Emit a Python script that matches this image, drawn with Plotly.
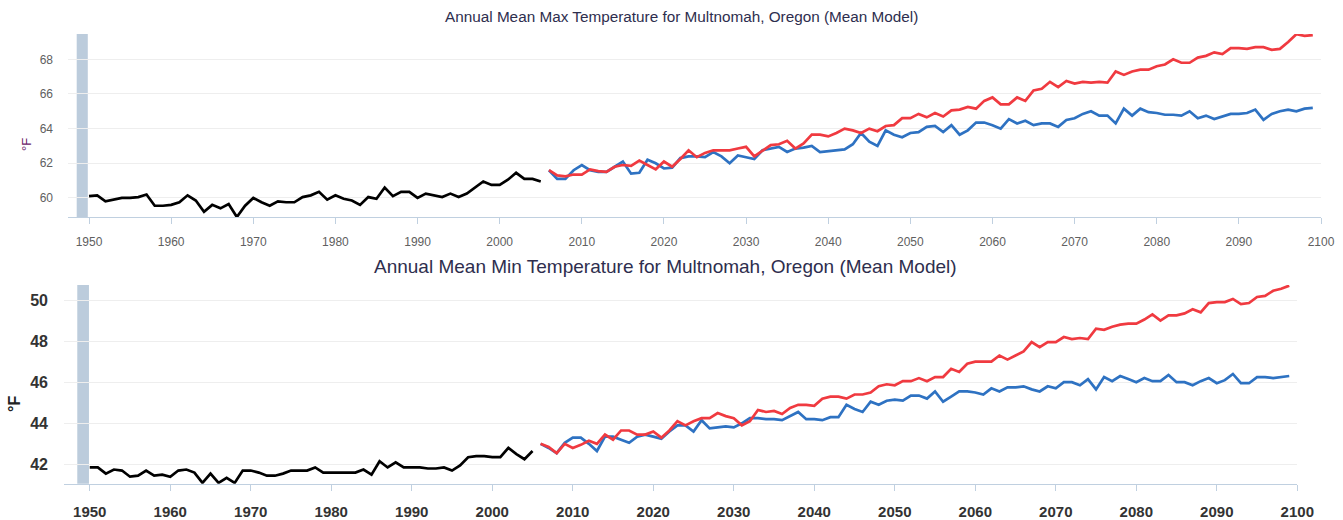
import plotly.graph_objects as go

# ---------------- data ----------------
hist_years = list(range(1950, 2006))
proj_years = list(range(2006, 2100))

max_hist = [60.1, 60.15, 59.8, 59.9, 60.0, 60.0, 60.05, 60.2, 59.55, 59.55,
            59.6, 59.75, 60.15, 59.85, 59.2, 59.6, 59.4, 59.65, 58.9, 59.55,
            60.0, 59.75, 59.55, 59.8, 59.75, 59.75, 60.05, 60.15, 60.35, 59.9,
            60.15, 59.95, 59.85, 59.6, 60.05, 59.95, 60.6, 60.1, 60.35, 60.35,
            60.0, 60.25, 60.15, 60.05, 60.25, 60.05, 60.25, 60.6, 60.95, 60.75,
            60.75, 61.05, 61.45, 61.1, 61.1, 60.95]

max_high = [61.6, 61.3, 61.25, 61.35, 61.35, 61.65, 61.55, 61.5, 61.8, 61.9,
            61.85, 62.15, 61.9, 61.65, 62.1, 61.8, 62.25, 62.75, 62.35, 62.6,
            62.75, 62.75, 62.75, 62.85, 62.95, 62.4, 62.7, 63.05, 63.1, 63.3,
            62.85, 63.15, 63.65, 63.65, 63.55, 63.75, 64.0, 63.9, 63.75, 64.0,
            63.85, 64.15, 64.2, 64.6, 64.6, 64.85, 64.65, 64.9, 64.7, 65.05,
            65.1, 65.25, 65.15, 65.6, 65.8, 65.4, 65.4, 65.8, 65.6, 66.2,
            66.3, 66.7, 66.4, 66.75, 66.6, 66.7, 66.65, 66.7, 66.65, 67.3,
            67.1, 67.3, 67.4, 67.4, 67.6, 67.7, 68.0, 67.8, 67.8, 68.1,
            68.2, 68.4, 68.3, 68.65, 68.65, 68.6, 68.7, 68.7, 68.55, 68.6,
            69.0, 69.45, 69.35, 69.4]

max_low = [61.6, 61.1, 61.1, 61.6, 61.9, 61.6, 61.5, 61.5, 61.8, 62.1,
           61.4, 61.45, 62.2, 62.0, 61.7, 61.75, 62.3, 62.4, 62.4, 62.35,
           62.65, 62.4, 62.0, 62.45, 62.35, 62.25, 62.75, 62.85, 62.95, 62.65,
           62.85, 62.9, 63.0, 62.65, 62.7, 62.75, 62.8, 63.1, 63.75, 63.25,
           63.0, 63.9, 63.65, 63.5, 63.75, 63.8, 64.1, 64.15, 63.8, 64.2,
           63.65, 63.9, 64.35, 64.35, 64.2, 64.0, 64.55, 64.3, 64.45, 64.2,
           64.3, 64.3, 64.1, 64.5, 64.6, 64.85, 65.0, 64.75, 64.75, 64.3,
           65.15, 64.75, 65.15, 64.95, 64.9, 64.8, 64.8, 64.75, 65.0, 64.6,
           64.75, 64.55, 64.7, 64.85, 64.85, 64.9, 65.1, 64.5, 64.85, 65.0,
           65.1, 65.0, 65.15, 65.2]

min_hist = [41.85, 41.85, 41.55, 41.75, 41.7, 41.4, 41.45, 41.7, 41.45, 41.5,
            41.4, 41.7, 41.75, 41.6, 41.1, 41.55, 41.1, 41.35, 41.1, 41.7,
            41.7, 41.6, 41.45, 41.45, 41.55, 41.7, 41.7, 41.7, 41.85, 41.6,
            41.6, 41.6, 41.6, 41.6, 41.75, 41.5, 42.15, 41.85, 42.1, 41.85,
            41.85, 41.85, 41.8, 41.8, 41.85, 41.7, 41.95, 42.35, 42.4, 42.4,
            42.35, 42.35, 42.8, 42.5, 42.25, 42.65]

min_high = [43.0, 42.85, 42.55, 43.0, 42.8, 42.95, 43.15, 43.0, 43.45, 43.2,
            43.65, 43.65, 43.45, 43.45, 43.6, 43.3, 43.65, 44.1, 43.9, 44.1,
            44.25, 44.25, 44.5, 44.35, 44.25, 43.9, 44.1, 44.65, 44.55, 44.6,
            44.45, 44.75, 44.9, 44.9, 44.85, 45.2, 45.3, 45.3, 45.2, 45.4,
            45.4, 45.5, 45.8, 45.9, 45.85, 46.05, 46.05, 46.2, 46.05, 46.25,
            46.25, 46.65, 46.5, 46.9, 47.0, 47.0, 47.0, 47.3, 47.1, 47.3,
            47.5, 47.95, 47.7, 47.95, 47.95, 48.2, 48.1, 48.15, 48.1, 48.6,
            48.55, 48.7, 48.8, 48.85, 48.85, 49.05, 49.3, 49.0, 49.25, 49.25,
            49.35, 49.55, 49.4, 49.85, 49.9, 49.9, 50.05, 49.8, 49.85, 50.15,
            50.2, 50.45, 50.55, 50.7]

min_low = [43.0, 42.8, 42.55, 43.05, 43.3, 43.3, 43.0, 42.65, 43.35, 43.35,
           43.2, 43.05, 43.35, 43.45, 43.35, 43.25, 43.6, 43.9, 43.9, 43.6,
           44.15, 43.75, 43.8, 43.85, 43.8, 44.0, 44.25, 44.25, 44.2, 44.2,
           44.15, 44.35, 44.55, 44.2, 44.2, 44.15, 44.3, 44.3, 44.9, 44.7,
           44.55, 45.05, 44.9, 45.1, 45.15, 45.1, 45.35, 45.35, 45.2, 45.55,
           45.05, 45.3, 45.55, 45.55, 45.5, 45.4, 45.7, 45.55, 45.75, 45.75,
           45.8, 45.65, 45.55, 45.8, 45.7, 46.0, 46.0, 45.85, 46.15, 45.65,
           46.25, 46.05, 46.3, 46.15, 46.0, 46.2, 46.05, 46.05, 46.35, 46.0,
           46.0, 45.85, 46.05, 46.2, 45.95, 46.1, 46.4, 45.95, 45.95, 46.25,
           46.25, 46.2, 46.25, 46.3]

x_ticks = list(range(1950, 2101, 10))
title_max = "Annual Mean Max Temperature for Multnomah, Oregon (Mean Model)"
title_min = "Annual Mean Min Temperature for Multnomah, Oregon (Mean Model)"

# ---------------- style ----------------
W, H = 1343, 520
BLACK = "#000000"
RED = "#F03A40"
BLUE = "#2E72C2"
BAND = "#BCCCDC"
GRID = "#EEEEEE"
AXIS = "#C0D0E0"
FONT = "Liberation Sans, Arial, sans-serif"

fig = go.Figure()

def add_series(x, y, color, xa, ya):
    fig.add_trace(go.Scatter(x=x, y=y, mode="lines", xaxis=xa, yaxis=ya,
                             line=dict(color=color, width=2.7),
                             hoverinfo="skip", showlegend=False))

add_series(hist_years, max_hist, BLACK, "x", "y")
add_series(proj_years, max_low, BLUE, "x", "y")
add_series(proj_years, max_high, RED, "x", "y")
add_series(hist_years, min_hist, BLACK, "x2", "y2")
add_series(proj_years, min_low, BLUE, "x2", "y2")
add_series(proj_years, min_high, RED, "x2", "y2")

def px_x(p):
    return p / W

def px_y(p):
    return 1 - p / H

xcommon = dict(tickmode="array", tickvals=x_ticks, showgrid=False, zeroline=False,
               showline=True, linecolor=AXIS, linewidth=1, automargin=False,
               ticks="outside", ticklen=6, tickcolor=AXIS, tickwidth=1)
ycommon = dict(dtick=2, tick0=0, showgrid=True, gridcolor=GRID, gridwidth=1,
               zeroline=False, showline=False, ticks="", automargin=False)

fig.update_layout(
    width=W, height=H, autosize=False, margin=dict(l=0, r=0, t=0, b=0, pad=0),
    paper_bgcolor="white", plot_bgcolor="white", showlegend=False,
    xaxis=dict(domain=[px_x(68), px_x(1321)], range=[1947.44, 2100], anchor="y",
               tickfont=dict(family=FONT, size=12, color="#606060"),
               ticklabelstandoff=8, **xcommon),
    yaxis=dict(domain=[px_y(217), px_y(34)], range=[58.9, 69.46], anchor="x",
               tickfont=dict(family=FONT, size=12, color="#606060"),
               ticklabelstandoff=14, **ycommon),
    xaxis2=dict(domain=[px_x(64), px_x(1297.3)], range=[1946.8, 2100], anchor="y2",
                tickfont=dict(family=FONT, size=15, color="#333333", weight="bold"),
                ticklabelstandoff=8, **xcommon),
    yaxis2=dict(domain=[px_y(483.7), px_y(285)], range=[41.06, 50.73], anchor="x2",
                tickfont=dict(family=FONT, size=16, color="#333333", weight="bold"),
                ticklabelstandoff=15, **ycommon),
)

# plot bands
fig.add_shape(type="rect", xref="x", yref="y domain", x0=1948.5, x1=1949.85, y0=0, y1=1,
              fillcolor=BAND, line=dict(width=0), layer="below")
fig.add_shape(type="rect", xref="x2", yref="y2 domain", x0=1948.45, x1=1949.9, y0=0, y1=1,
              fillcolor=BAND, line=dict(width=0), layer="below")

# titles
fig.add_annotation(text=title_max, xref="paper", yref="paper", x=px_x(681), y=px_y(16),
                   xanchor="center", yanchor="middle", showarrow=False,
                   font=dict(family=FONT, size=15.3, color="#2E2E4E"))
fig.add_annotation(text=title_min, xref="paper", yref="paper", x=px_x(665), y=px_y(266),
                   xanchor="center", yanchor="middle", showarrow=False,
                   font=dict(family=FONT, size=19, color="#2E2E4E"))

# y-axis titles
fig.add_annotation(text="°F", xref="paper", yref="paper", x=px_x(26), y=px_y(145),
                   xanchor="center", yanchor="middle", showarrow=False, textangle=-90,
                   font=dict(family=FONT, size=13, color="#6A1B6A"))
fig.add_annotation(text="°F", xref="paper", yref="paper", x=px_x(14), y=px_y(404),
                   xanchor="center", yanchor="middle", showarrow=False, textangle=-90,
                   font=dict(family=FONT, size=16, color="#222222", weight="bold"))

fig.write_html("out.html", config={"displayModeBar": False, "responsive": False},
               post_script=("document.body.style.margin='0px';"
                            "document.body.style.padding='0px';"
                            "document.body.style.overflow='hidden';"
                            "document.documentElement.style.overflow='hidden';"))
